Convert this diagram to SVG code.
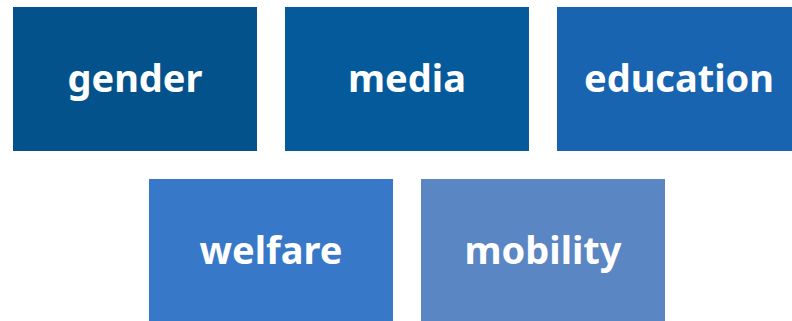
<svg xmlns="http://www.w3.org/2000/svg" width="792" height="321" viewBox="0 0 792 321">
<style>
.box{stroke:none}
.lbl{font-family:"Noto Sans","Open Sans","Liberation Sans",sans-serif;font-weight:bold;font-size:38px;fill:#ffffff;text-anchor:middle}
</style>
<rect width="792" height="321" fill="#ffffff"/>
<g id="gender"><rect class="box" x="13" y="7" width="244" height="144" fill="#04528C"/><text class="lbl" x="135" y="92">gender</text></g>
<g id="media"><rect class="box" x="285" y="7" width="244" height="144" fill="#055A9C"/><text class="lbl" x="407" y="92">media</text></g>
<g id="education"><rect class="box" x="557" y="7" width="244" height="144" fill="#1864B0"/><text class="lbl" x="679" y="92">education</text></g>
<g id="welfare"><rect class="box" x="149" y="179" width="244" height="144" fill="#3878C8"/><text class="lbl" x="271" y="264">welfare</text></g>
<g id="mobility"><rect class="box" x="421" y="179" width="244" height="144" fill="#5B86C4"/><text class="lbl" x="543" y="264">mobility</text></g>
<g id="connectors"></g>
</svg>
